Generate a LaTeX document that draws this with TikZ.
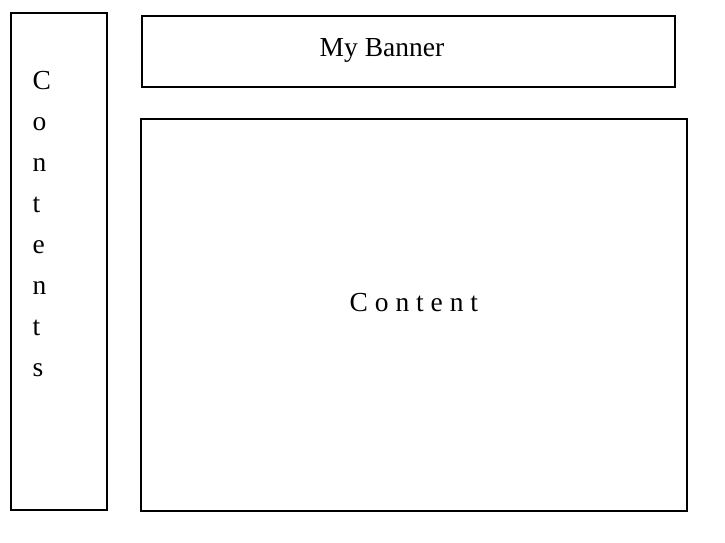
\documentclass[tikz,border=0pt]{standalone}
\usepackage{fontspec}
\setmainfont{Liberation Serif}
\begin{document}
\begin{tikzpicture}[x=1pt,y=-1pt,
  frame/.style={draw=black,line width=2pt},
  txt/.style={anchor=base west,inner sep=0pt,font=\fontsize{27.5}{32}\selectfont}]
\useasboundingbox[fill=white] (0,0) rectangle (725,542);
\draw[frame] (10.5,13) rectangle (107,509.5);
\draw[frame] (142,16) rectangle (675,87);
\draw[frame] (141,119) rectangle (687,510.5);
\node[txt] (banner) at (319.5,56) {My Banner};
\node[txt] (content) at (349.5,311.5) {C o n t e n t};
\foreach \l [count=\i] in {C,o,n,t,e,n,t,s}
  \node[txt] (c\i) at (32.5,{89+41*(\i-1)}) {\l};
\end{tikzpicture}
\end{document}
